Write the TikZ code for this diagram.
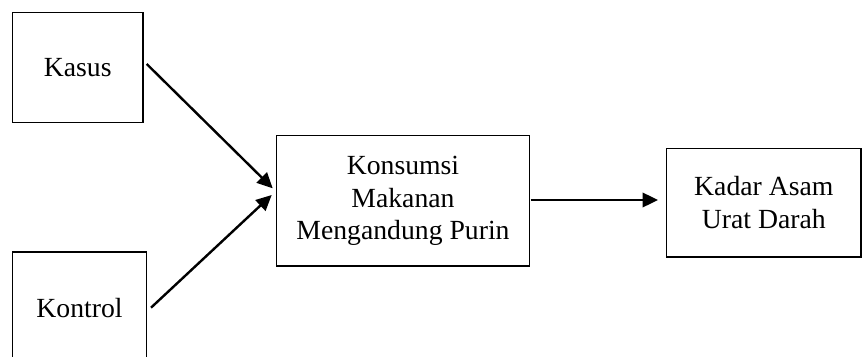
\documentclass[tikz,border=0pt]{standalone}
\usepackage{fontspec}
\setmainfont{Liberation Serif}
\usetikzlibrary{arrows.meta}
\begin{document}
\begin{tikzpicture}[x=1pt,y=-1pt,
  box/.style={draw=black, line width=1.1pt, fill=white, align=center, inner sep=0pt,
    font=\fontsize{27.7}{32.7}\selectfont},
  link/.style={line width=2.4pt, -{Triangle[length=15.5pt,width=14.5pt]}}]
\useasboundingbox (0,0) rectangle (864,356);
\clip (0,0) rectangle (864,356);
% input boxes on the left
\node[box, minimum width=130.5pt, minimum height=110.3pt] (kasus) at (77.75,67.2) {Kasus};
\node[box, minimum width=134pt, minimum height=112pt] (kontrol) at (79.5,308) {Kontrol};
% central factor
\node[box, minimum width=252.6pt, minimum height=130.3pt] (konsumsi) at (403,200.85)
  {Konsumsi\\Makanan\\Mengandung Purin};
% outcome
\node[box, minimum width=194.3pt, minimum height=108.7pt] (kadar) at (763.8,202.65)
  {Kadar Asam\\Urat Darah};
% arrow end points
\coordinate (a1) at (146.7,64);
\coordinate (b1) at (272.7,188.3);
\coordinate (a2) at (151,307.7);
\coordinate (b2) at (271.7,195);
\coordinate (a3) at (530.7,200);
\coordinate (b3) at (658,200);
\draw[link] (a1) -- (b1);
\draw[link] (a2) -- (b2);
\draw[link] (a3) -- (b3);
\end{tikzpicture}
\end{document}
